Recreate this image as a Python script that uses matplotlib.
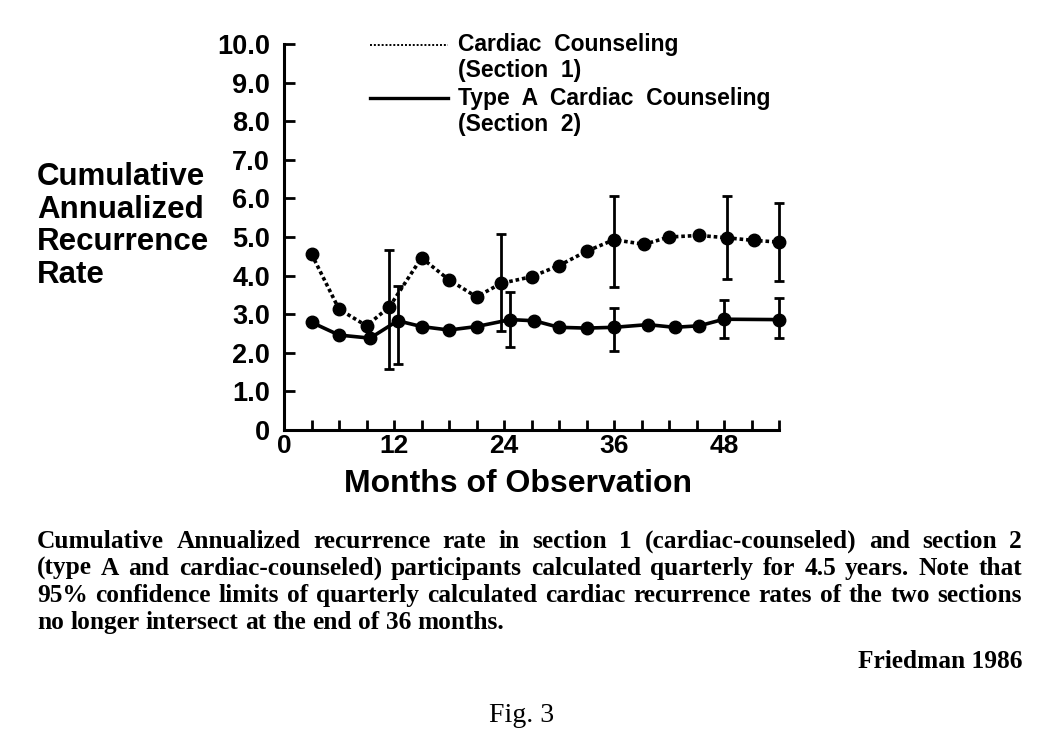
import matplotlib
matplotlib.use("Agg")
import matplotlib.pyplot as plt
import matplotlib.ticker as mticker
from matplotlib.lines import Line2D

# values
months_s1 = [3, 6, 9, 11.5, 15, 18, 21, 23.7, 27, 30, 33, 36, 39.3, 42, 45.3, 48.3, 51.3, 54]
rate_s1 = [4.56, 3.13, 2.70, 3.19, 4.46, 3.89, 3.45, 3.80, 3.97, 4.26, 4.63, 4.93,
           4.81, 5.00, 5.04, 4.98, 4.91, 4.87]
ci_months_s1 = [11.5, 23.7, 36, 48.3, 54]
ci_low_s1 = [1.58, 2.57, 3.71, 3.91, 3.87]
ci_high_s1 = [4.67, 5.08, 6.05, 6.05, 5.87]

months_s2 = [3, 6, 9.4, 12.4, 15, 18, 21, 24.7, 27.3, 30, 33, 36, 39.7, 42.6, 45.3, 48, 54]
rate_s2 = [2.79, 2.46, 2.38, 2.83, 2.68, 2.59, 2.68, 2.86, 2.83, 2.66, 2.64, 2.66,
           2.73, 2.66, 2.70, 2.87, 2.86]
ci_months_s2 = [12.4, 24.7, 36, 48, 54]
ci_low_s2 = [1.72, 2.16, 2.05, 2.38, 2.38]
ci_high_s2 = [3.74, 3.58, 3.16, 3.37, 3.42]

x_ticks = list(range(3, 55, 3))
x_labels = {0: "0", 12: "12", 24: "24", 36: "36", 48: "48"}
y_ticks = list(range(0, 11))
y_labels = ["0"] + ["%.1f" % v for v in range(1, 11)]

legend_labels = [("Cardiac  Counseling", "(Section  1)"),
                 ("Type  A  Cardiac  Counseling", "(Section  2)")]

caption = [
    "Cumulative Annualized recurrence rate in section 1 (cardiac-counseled) and section 2",
    "(type A and cardiac-counseled) participants calculated quarterly for 4.5 years. Note that",
    "95% confidence limits of quarterly calculated cardiac recurrence rates of the two sections",
    "no longer intersect at the end of 36 months.",
]

W, H = 1052, 750
sans = ["Liberation Sans", "DejaVu Sans"]
serif = ["Liberation Serif", "DejaVu Serif"]

fig = plt.figure(figsize=(W / 100, H / 100), dpi=100)
fig.patch.set_facecolor("white")
ax = fig.add_axes([284 / W, 1 - 430 / H, (779 - 284) / W, (430 - 44) / H])


def errs(months, rates, ci_m, lo, hi):
    y = [rates[months.index(m)] for m in ci_m]
    return y, [[a - b for a, b in zip(y, lo)], [c - a for a, c in zip(y, hi)]]


ax.plot(months_s1, rate_s1, color="k", ls=(0, (1, 0.8)), lw=2.6, marker="o", ms=9,
        clip_on=False)
ax.plot(months_s2, rate_s2, color="k", ls="-", lw=2.6, marker="o", ms=9, clip_on=False)
for m, r, cm, lo, hi in [(months_s1, rate_s1, ci_months_s1, ci_low_s1, ci_high_s1),
                         (months_s2, rate_s2, ci_months_s2, ci_low_s2, ci_high_s2)]:
    yc, ye = errs(m, r, cm, lo, hi)
    eb = ax.errorbar(cm, yc, yerr=ye, fmt="none", ecolor="k", elinewidth=2,
                     capsize=3.5, capthick=2)
    for art in eb.lines[1] + eb.lines[2]:
        art.set_clip_on(False)

ax.set_xlim(0, 54)
ax.set_ylim(0, 10)
for s in ["top", "right"]:
    ax.spines[s].set_visible(False)
for s in ["left", "bottom"]:
    ax.spines[s].set_linewidth(2.2)

ax.set_xticks([0] + x_ticks)
ax.xaxis.set_major_formatter(mticker.FuncFormatter(lambda v, p: x_labels.get(int(round(v)), "")))
ax.set_yticks(y_ticks)
ax.set_yticklabels(y_labels)
ax.tick_params(axis="x", direction="in", length=7, width=2, pad=3)
ax.tick_params(axis="y", direction="in", length=8, width=2, pad=10)
for lab in ax.get_xticklabels():
    lab.set_fontfamily(sans)
    lab.set_fontweight("bold")
    lab.set_fontsize(19)
for lab in ax.get_yticklabels():
    lab.set_fontfamily(sans)
    lab.set_fontweight("bold")
    lab.set_fontsize(19.5)

ax.set_xlabel("Months of Observation", fontfamily=sans, fontweight="bold",
              fontsize=23, labelpad=8)
ax.xaxis.set_label_coords(0.472, -0.102)

fig.text(37 / W, 1 - 226 / H, "Cumulative\nAnnualized\nRecurrence\nRate",
         ha="left", va="center", fontfamily=sans, fontweight="bold",
         fontsize=22.5, linespacing=1.11)

# legend drawn by hand, line sample next to the first text line
for (l1, l2), ls, yl in zip(legend_labels, [(0, (1, 1)), "-"], [45, 98]):
    fig.add_artist(Line2D([370 / W, 448 / W], [1 - yl / H, 1 - yl / H],
                          color="k", ls=ls, lw=1.4 if ls != "-" else 2.4))
    fig.text(458 / W, 1 - yl / H, l1, ha="left", va="center", fontfamily=sans,
             fontweight="bold", fontsize=16.5)
    fig.text(458 / W, 1 - (yl + 26) / H, l2, ha="left", va="center", fontfamily=sans,
             fontweight="bold", fontsize=16.5)

# justified caption, font sized so the widest line nearly fills the width
renderer = fig.canvas.get_renderer()
x0, x1 = 37, 1022
probe = [fig.text(0, 0, ln, fontfamily=serif, fontweight="bold", fontsize=16) for ln in caption]
widest = max(p.get_window_extent(renderer).width for p in probe)
for p in probe:
    p.remove()
cap_kw = dict(fontfamily=serif, fontweight="bold", fontsize=16 * (x1 - x0 - 12) / widest)

for i, line in enumerate(caption):
    yb = 1 - [548, 575, 602, 629][i] / H
    words = line.split()
    arts = [fig.text(0, yb, w, ha="left", va="baseline", **cap_kw) for w in words]
    widths = [a.get_window_extent(renderer).width for a in arts]
    if i < len(caption) - 1:
        gap = (x1 - x0 - sum(widths)) / (len(words) - 1)
    else:
        sp = fig.text(0, 0, "a a", **cap_kw)
        sp2 = fig.text(0, 0, "aa", **cap_kw)
        gap = sp.get_window_extent(renderer).width - sp2.get_window_extent(renderer).width
        sp.remove()
        sp2.remove()
    x = x0
    for a, w in zip(arts, widths):
        a.set_x(x / W)
        x += w + gap

fig.text(1022 / W, 1 - 668 / H, "Friedman 1986", ha="right", va="baseline", **cap_kw)
fig.text(522 / W, 1 - 722 / H, "Fig. 3", ha="center", va="baseline",
         fontfamily=serif, fontsize=20)

fig.savefig("out.png", dpi=100, facecolor="white")
